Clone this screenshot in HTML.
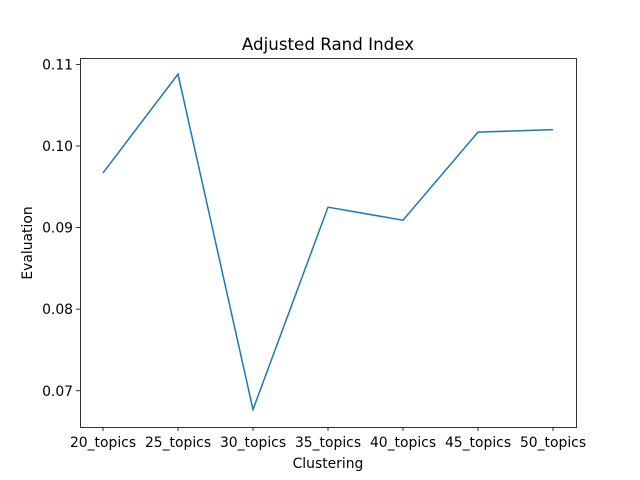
<!DOCTYPE html>
<html><head><meta charset="utf-8"><style>body{margin:0;background:#fff}svg{display:block;font-family:"DejaVu Sans","Liberation Sans",sans-serif}</style></head>
<body>
<svg id="chart" width="640" height="480">
<rect width="640" height="480" fill="#fff"/>
<text x="328" y="50" font-size="16.7" text-anchor="middle">Adjusted Rand Index</text>
<text x="328" y="468" font-size="13.9" text-anchor="middle">Clustering</text>
<text transform="translate(32,243) rotate(-90)" font-size="13.9" text-anchor="middle">Evaluation</text>
<g id="ticks"></g>
<polyline id="line" fill="none" stroke="#1f77b4" stroke-width="1.5"/>
<rect x="80.5" y="58.5" width="496" height="369" fill="none" stroke="#000" stroke-width="0.8"/>
</svg>
<script>
const categories = ["20_topics","25_topics","30_topics","35_topics","40_topics","45_topics","50_topics"];
const values = [0.0967,0.1088,0.0677,0.0925,0.0909,0.1017,0.1020];
const yTicks = [0.07,0.08,0.09,0.10,0.11];
const yTickLabels = ["0.07","0.08","0.09","0.10","0.11"];
const L=80,R=576,T=58,B=427, yMin=0.06556, yMax=0.11078;
const x=i=>103+i*(553-103)/(categories.length-1);
const y=v=>B-(v-yMin)/(yMax-yMin)*(B-T);
const ns="http://www.w3.org/2000/svg", g=document.getElementById('ticks');
function mk(t,a){const e=document.createElementNS(ns,t);for(const k in a)e.setAttribute(k,a[k]);return e;}
categories.forEach((c,i)=>{
  const l=mk('line',{x1:x(i),x2:x(i),y1:B,y2:B+4,stroke:'#000','stroke-width':0.8});
  
  
  g.appendChild(l);
  const t=mk('text',{x:x(i),y:B+20,'font-size':13.9,'text-anchor':'middle'});
  t.textContent=c;
  
  
  g.appendChild(t);
});
yTicks.forEach((v,i)=>{
  const l=mk('line',{x1:L-4,x2:L,y1:y(v),y2:y(v),stroke:'#000','stroke-width':0.8});
  
  
  g.appendChild(l);
  const t=mk('text',{x:L-7,y:y(v)+5,'font-size':13.9,'text-anchor':'end'});
  t.textContent=yTickLabels[i];
  
  
  g.appendChild(t);
});
document.getElementById('line').setAttribute('points',values.map((v,i)=>x(i)+','+y(v)).join(' '));
</script>
</body></html>
